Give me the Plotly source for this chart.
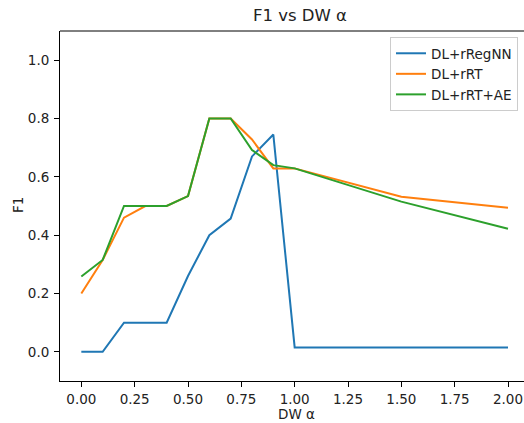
import plotly.graph_objects as go

alpha = [0.0, 0.1, 0.2, 0.3, 0.4, 0.5, 0.6, 0.7, 0.8, 0.9, 1.0, 1.5, 2.0]
f1_regnn = [0.0, 0.0, 0.1, 0.1, 0.1, 0.26, 0.40, 0.457, 0.67, 0.745, 0.015, 0.015, 0.015]
f1_rrt = [0.20, 0.315, 0.46, 0.50, 0.50, 0.534, 0.80, 0.80, 0.728, 0.629, 0.629, 0.532, 0.494]
f1_rrt_ae = [0.258, 0.315, 0.50, 0.50, 0.50, 0.534, 0.80, 0.80, 0.692, 0.640, 0.629, 0.515, 0.422]

series_names = ["DL+rRegNN", "DL+rRT", "DL+rRT+AE"]
series_vals = [f1_regnn, f1_rrt, f1_rrt_ae]
colors = ["#1f77b4", "#ff7f0e", "#2ca02c"]

W, H = 524, 423
ml, mr, mt, mb = 60, 0, 31, 42
PW, PH = W - ml - mr, H - mt - mb

fig = go.Figure()
for name, vals, c in zip(series_names, series_vals, colors):
    fig.add_trace(go.Scatter(x=alpha, y=vals, mode="lines", name=name,
                             line=dict(color=c, width=2)))

font = dict(family="DejaVu Sans", size=13.5, color="#222222")

fig.update_layout(
    width=W, height=H,
    margin=dict(l=ml, r=mr, t=mt, b=mb, pad=0, autoexpand=False),
    paper_bgcolor="white", plot_bgcolor="white",
    font=font,
    title=dict(text="F1 vs DW α", x=300 / W, xref="container",
               xanchor="center", y=1 - 15 / H, yref="container", yanchor="middle",
               font=dict(family="DejaVu Sans", size=16.5, color="#222222")),
    xaxis=dict(range=[-0.1, 2.075], dtick=0.25, tick0=0, tickformat=".2f",
               showgrid=False, zeroline=False, showline=True, linecolor="black", linewidth=1,
               ticks="outside", ticklen=5, tickcolor="black", tickwidth=1,
               ticklabelstandoff=1, automargin=False),
    yaxis=dict(range=[-0.1, 1.1], dtick=0.2, tick0=0, tickformat=".1f",
               showgrid=False, zeroline=False, showline=True, linecolor="black", linewidth=1,
               ticks="outside", ticklen=5, tickcolor="black", tickwidth=1,
               ticklabelstandoff=2, automargin=False),
    legend=dict(x=(518 - ml) / PW, y=(H - mb - 37) / PH,
                xanchor="right", yanchor="top", itemwidth=30,
                bgcolor="rgba(255,255,255,0.8)", bordercolor="#cccccc", borderwidth=1,
                font=font, tracegroupgap=0),
    shapes=[dict(type="line", xref="paper", yref="paper", x0=0, x1=1, y0=1, y1=1,
                 line=dict(color="black", width=1))],
    annotations=[
        dict(text="DW α", xref="paper", yref="paper", x=(296 - ml) / PW, y=-(414 - (H - mb)) / PH,
             xanchor="center", yanchor="middle", showarrow=False, font=font),
        dict(text="F1", xref="paper", yref="paper", x=-(ml - 18) / PW, y=(H - mb - 205) / PH,
             xanchor="center", yanchor="middle", showarrow=False, textangle=-90, font=font),
    ],
    showlegend=True,
)

fig.write_html("out.html", config={"displayModeBar": False},
               post_script="document.body.style.margin='0';document.body.style.overflow='hidden';")
